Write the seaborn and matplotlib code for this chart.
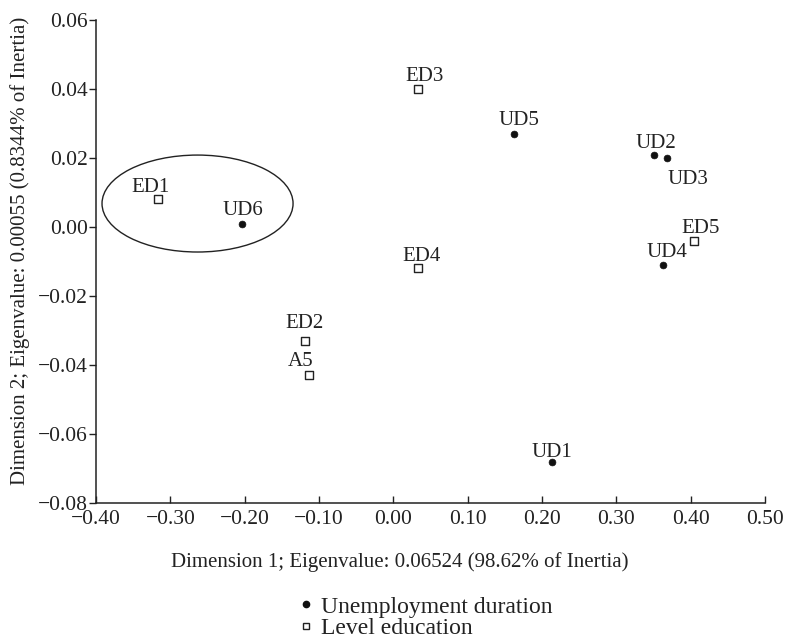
import matplotlib
matplotlib.use("Agg")
import matplotlib.pyplot as plt
import seaborn as sns
import pandas as pd
from matplotlib.patches import Ellipse
from matplotlib.lines import Line2D

# unemployment duration categories
ud_labels = ["UD1", "UD2", "UD3", "UD4", "UD5", "UD6"]
ud_dim1 = [0.213, 0.350, 0.368, 0.363, 0.162, -0.204]
ud_dim2 = [-0.068, 0.021, 0.020, -0.011, 0.027, 0.001]

# level of education categories
ed_labels = ["ED1", "ED2", "A5", "ED3", "ED4", "ED5"]
ed_dim1 = [-0.316, -0.119, -0.114, 0.033, 0.033, 0.405]
ed_dim2 = [0.008, -0.033, -0.043, 0.040, -0.012, -0.004]

x_ticks = [-0.40, -0.30, -0.20, -0.10, 0.00, 0.10, 0.20, 0.30, 0.40, 0.50]
y_ticks = [-0.08, -0.06, -0.04, -0.02, 0.00, 0.02, 0.04, 0.06]

# label offsets in points (dx, dy, va)
label_offsets = {
    "UD1": (0, 3.5, "baseline"),
    "UD2": (1.5, 5, "baseline"),
    "UD3": (15, -8.5, "top"),
    "UD4": (2.5, 6, "baseline"),
    "UD5": (3.5, 6.5, "baseline"),
    "UD6": (0.5, 6.5, "baseline"),
    "ED1": (-5.5, 5.5, "baseline"),
    "ED2": (0, 9.5, "baseline"),
    "A5": (-5.5, 7, "baseline"),
    "ED3": (4.5, 5.5, "baseline"),
    "ED4": (3, 5.5, "baseline"),
    "ED5": (4.5, 5.5, "baseline"),
}

serif = "Liberation Serif"
ink = "#222222"

ud_df = pd.DataFrame({"label": ud_labels, "dim1": ud_dim1, "dim2": ud_dim2})
ed_df = pd.DataFrame({"label": ed_labels, "dim1": ed_dim1, "dim2": ed_dim2})

sns.set_style("ticks")
plt.rcParams["font.family"] = [serif, "DejaVu Serif"]

fig = plt.figure(figsize=(7.85, 6.39), dpi=100)
ax = fig.add_axes([96 / 785, 1 - 503 / 639, 669 / 785, 483 / 639])

sns.scatterplot(data=ud_df, x="dim1", y="dim2", ax=ax, marker="o", s=24,
                color="#111111", edgecolor="#111111", linewidth=0.5, legend=False)
sns.scatterplot(data=ed_df, x="dim1", y="dim2", ax=ax, marker="s", s=28,
                facecolor="white", edgecolor=ink, linewidth=1.0, legend=False)

for df in (ud_df, ed_df):
    for _, row in df.iterrows():
        dx, dy, va = label_offsets[row["label"]]
        ax.annotate(row["label"], (row["dim1"], row["dim2"]), xytext=(dx, dy),
                    textcoords="offset points", ha="center", va=va,
                    fontsize=15, color=ink)

# grouping ellipse around ED1 / UD6
ax.add_patch(Ellipse((-0.2634, 0.0068), 0.257, 0.0281, fill=False,
                     edgecolor=ink, linewidth=1.0, clip_on=False))

ax.set_xlim(-0.40, 0.50)
ax.set_ylim(-0.08, 0.06)
ax.set_xticks(x_ticks)
ax.set_yticks(y_ticks)
ax.set_xticklabels([f"{v:.2f}".replace("-", "\u2212") for v in x_ticks])
ax.set_yticklabels([f"{v:.2f}".replace("-", "\u2212") for v in y_ticks])
ax.tick_params(axis="x", direction="in", length=5, width=1, pad=5,
               labelsize=15.5, colors=ink)
ax.tick_params(axis="y", direction="out", length=5, width=1, pad=1,
               labelsize=15.5, colors=ink)
sns.despine(ax=ax)
for sp in ("left", "bottom"):
    ax.spines[sp].set_linewidth(1.1)
    ax.spines[sp].set_color(ink)

ax.set_xlabel("Dimension 1; Eigenvalue: 0.06524 (98.62% of Inertia)",
              fontsize=15, color=ink)
ax.set_ylabel("Dimension 2; Eigenvalue: 0.00055 (0.8344% of Inertia)",
              fontsize=15, color=ink)
ax.xaxis.set_label_coords(304 / 669, -49 / 483)
ax.yaxis.set_label_coords(-66 / 669, 252 / 483)

handles = [
    Line2D([], [], marker="o", linestyle="none", markersize=4.5,
           color="#111111", label="Unemployment duration"),
    Line2D([], [], marker="s", linestyle="none", markersize=5,
           markerfacecolor="white", markeredgecolor=ink,
           markeredgewidth=1.0, label="Level education"),
]
fig.legend(handles=handles, loc="upper left",
           bbox_to_anchor=(297 / 785, 1 - 596 / 639), frameon=False,
           fontsize=17, handlelength=0.8, handletextpad=0.2,
           labelspacing=0.0, borderpad=0, borderaxespad=0,
           labelcolor=ink)

fig.savefig("out.png", dpi=100)
